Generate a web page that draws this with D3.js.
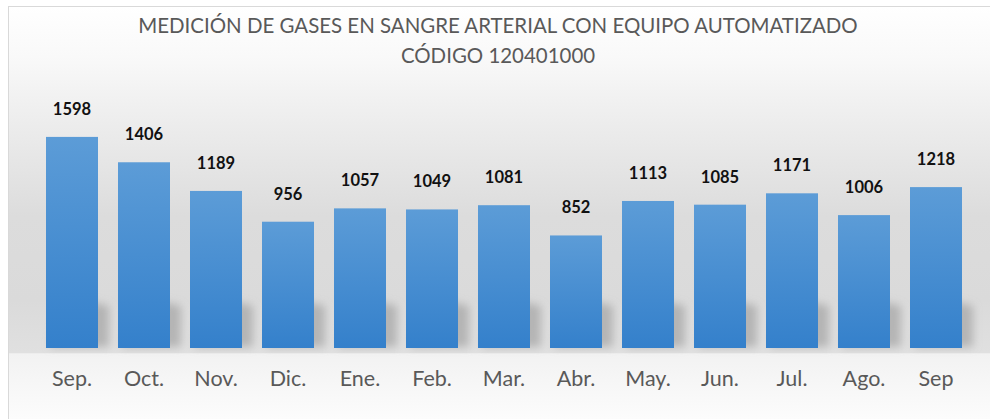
<!DOCTYPE html>
<html><head><meta charset="utf-8">
<script src="https://cdn.jsdelivr.net/npm/d3@7/dist/d3.min.js"></script>
<style>html,body{margin:0;padding:0;background:#fff;}svg{display:block;}</style>
</head><body>
<svg id="chart" width="990" height="419"></svg>
<script>
const titleLines = ["MEDICIÓN DE GASES EN SANGRE ARTERIAL CON EQUIPO AUTOMATIZADO", "CÓDIGO 120401000"];
const categories = ["Sep.", "Oct.", "Nov.", "Dic.", "Ene.", "Feb.", "Mar.", "Abr.", "May.", "Jun.", "Jul.", "Ago.", "Sep"];
const values = [1598, 1406, 1189, 956, 1057, 1049, 1081, 852, 1113, 1085, 1171, 1006, 1218];

const W = 990, H = 419;
const svg = d3.select("#chart");
const defs = svg.append("defs");

const bg = defs.append("linearGradient").attr("id","bg").attr("x1",0).attr("y1",0).attr("x2",0).attr("y2",1);
[[0,"#ffffff"],[0.12,"#f9f9f9"],[0.3,"#ebebeb"],[0.5,"#dcdcdc"],[0.7,"#dadada"],[0.826,"#e0e0e0"],[0.829,"#f2f2f2"],[1,"#fdfdfd"]]
  .forEach(s=>bg.append("stop").attr("offset",s[0]).attr("stop-color",s[1]));

const bar = defs.append("linearGradient").attr("id","bar").attr("x1",0).attr("y1",0).attr("x2",0).attr("y2",1);
bar.append("stop").attr("offset",0).attr("stop-color","#5c9cd7");
bar.append("stop").attr("offset",1).attr("stop-color","#3480cb");

const blur = defs.append("filter").attr("id","blur").attr("x","-50%").attr("y","-50%").attr("width","200%").attr("height","200%");
blur.append("feGaussianBlur").attr("stdDeviation",4.5);

svg.append("rect").attr("x",8.5).attr("y",6.5).attr("width",W).attr("height",H)
  .attr("fill","url(#bg)").attr("stroke","#d9d9d9").attr("stroke-width",1);

const x = d3.scaleBand().domain(categories).range([36, 972]).paddingInner(20/72).paddingOuter(10/72);
const y = d3.scaleLinear().domain([0, 1800]).range([348, 348 - 1800*0.1321]);

const data = categories.map((c,i)=>({c, v: values[i]}));

// soft perspective shadows behind bars
svg.append("g").attr("filter","url(#blur)").selectAll("path").data(data).join("path")
  .attr("d", d => {
    const x0 = x(d.c), w = x.bandwidth(), b = y(0);
    return `M${x0+4},${b-1} L${x0+w+11},${b-1} L${x0+w+11},${b-42} L${x0+w-6},${b-46} L${x0+10},${b-30} Z`;
  })
  .attr("fill","#9a9a9a").attr("opacity",0.6);

svg.append("g").selectAll("rect").data(data).join("rect")
  .attr("x", d=>x(d.c)).attr("width", x.bandwidth())
  .attr("y", d=>y(d.v)).attr("height", d=>y(0)-y(d.v))
  .attr("fill","url(#bar)");

svg.append("g").selectAll("text").data(data).join("text")
  .attr("x", d=>x(d.c)+x.bandwidth()/2).attr("y", d=>y(d.v)-22)
  .attr("text-anchor","middle").attr("font-family","Lato, 'Open Sans', sans-serif")
  .attr("font-weight","bold").attr("font-size",16.5).attr("fill","#111")
  .text(d=>d.v);

const xAxis = d3.axisBottom(x).tickSize(0).tickPadding(0);
const gx = svg.append("g").attr("transform","translate(0,386)").call(xAxis);
gx.select(".domain").remove();
gx.selectAll("text").attr("font-family","Lato, 'Open Sans', sans-serif").attr("font-size",21.5)
  .attr("fill","#595959").attr("dy",0).attr("y",0);

const tg = svg.append("g");
const t1 = tg.append("text").attr("x",498).attr("y",33).text(titleLines[0]);
const t2 = tg.append("text").attr("x",498).attr("y",63).text(titleLines[1]);
tg.selectAll("text").attr("text-anchor","middle").attr("font-family","Lato, 'Open Sans', sans-serif")
  .attr("font-size",22).attr("fill","#595959");
const len = t1.node().getComputedTextLength();
const fs = 22*720/len;
tg.selectAll("text").attr("font-size",fs);
</script>
</body></html>
